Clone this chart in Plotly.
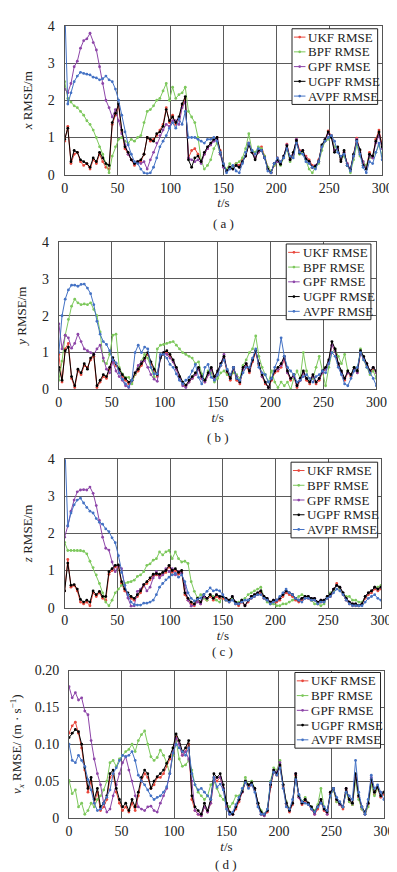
import plotly.graph_objects as go

# ---------------- data ----------------
t = list(range(0, 301, 3))
series_names = ["UKF RMSE", "BPF RMSE", "GPF RMSE", "UGPF RMSE", "AVPF RMSE"]
series_colors = ["#e8473c", "#7dc85c", "#8d45a8", "#000000", "#4472c4"]
x_ticks = [0, 50, 100, 150, 200, 250, 300]

# panel (a): x RMSE / m
ukf_a = [0.90, 1.30, 0.30, 0.55, 0.60, 0.35, 0.25, 0.30, 0.15, 0.40,
         0.30, 0.55, 0.35, 0.20, 0.15, 1.35, 1.60, 1.85, 1.15, 0.70,
         0.55, 0.40, 0.25, 0.35, 0.35, 0.55, 1.00, 0.90, 0.95, 1.05,
         1.20, 1.35, 1.80, 1.40, 1.60, 1.35, 1.50, 1.85, 2.05, 0.45,
         0.65, 0.70, 0.55, 0.35, 0.55, 0.70, 0.80, 0.95, 1.00, 0.65,
         0.30, 0.10, 0.20, 0.20, 0.30, 0.25, 0.40, 0.50, 0.85, 0.65,
         0.45, 0.60, 0.75, 0.50, 0.20, 0.05, 0.25, 0.45, 0.35, 0.45,
         0.82, 0.45, 0.55, 0.95, 0.65, 0.60, 0.50, 0.40, 0.25, 0.20,
         0.40, 0.75, 0.90, 1.18, 1.05, 0.65, 0.70, 0.40, 0.60, 0.30,
         0.10, 0.50, 0.98, 0.65, 0.30, 0.20, 0.60, 0.45, 0.95, 1.20,
         0.80]
bpf_a = [2.50, 2.05, 1.95, 1.85, 1.80, 1.70, 1.60, 1.45, 1.35, 1.20,
         1.00, 0.75, 0.55, 0.30, 0.05, 0.50, 0.75, 0.95, 1.00, 0.90,
         0.85, 0.95, 0.90, 1.00, 1.05, 1.40, 1.70, 1.75, 1.85, 2.00,
         2.05, 2.25, 2.45, 2.00, 2.35, 2.05, 2.15, 2.20, 2.35, 1.70,
         1.55, 1.40, 1.00, 0.40, 0.15, 0.25, 0.40, 0.70, 0.85, 0.55,
         0.25, 0.15, 0.30, 0.20, 0.30, 0.35, 0.45, 0.70, 1.10, 0.65,
         0.60, 0.75, 0.70, 0.50, 0.20, 0.10, 0.25, 0.35, 0.25, 0.45,
         0.70, 0.35, 0.50, 0.90, 0.55, 0.60, 0.40, 0.15, 0.05, 0.20,
         0.30, 0.65, 0.90, 0.95, 1.05, 0.75, 0.65, 0.40, 0.50, 0.25,
         0.05, 0.40, 0.80, 0.50, 0.35, 0.25, 0.45, 0.50, 0.60, 0.80,
         0.50]
gpf_a = [2.30, 2.20, 2.45, 2.90, 3.05, 3.40, 3.60, 3.65, 3.80, 3.55,
         3.35, 2.90, 2.45, 2.00, 1.80, 1.55, 1.75, 1.45, 1.10, 0.80,
         0.55, 0.40, 0.30, 0.35, 0.30, 0.35, 0.15, 0.40, 0.60, 0.85,
         1.05, 1.20, 1.35, 1.30, 1.45, 1.45, 1.35, 1.80, 1.95, 0.45,
         0.40, 0.35, 0.40, 0.30, 0.55, 0.70, 0.80, 0.90, 0.95, 0.55,
         0.20, 0.10, 0.20, 0.15, 0.25, 0.20, 0.35, 0.50, 0.85, 0.60,
         0.45, 0.60, 0.65, 0.45, 0.15, 0.05, 0.30, 0.35, 0.30, 0.50,
         0.80, 0.40, 0.55, 0.95, 0.60, 0.65, 0.45, 0.35, 0.20, 0.25,
         0.35, 0.75, 0.95, 1.10, 1.05, 0.65, 0.70, 0.40, 0.60, 0.30,
         0.15, 0.50, 0.95, 0.60, 0.35, 0.15, 0.50, 0.45, 0.85, 1.05,
         0.70]
ugpf_a = [0.95, 1.25, 0.35, 0.65, 0.60, 0.40, 0.35, 0.30, 0.20, 0.45,
          0.35, 0.60, 0.45, 0.30, 0.25, 1.40, 1.65, 1.90, 1.20, 0.75,
          0.60, 0.40, 0.30, 0.35, 0.40, 0.55, 1.00, 0.95, 0.90, 1.10,
          1.15, 1.30, 1.75, 1.45, 1.55, 1.40, 1.55, 1.90, 2.10, 0.40,
          0.20, 0.45, 0.50, 0.35, 0.60, 0.75, 0.85, 0.95, 1.00, 0.60,
          0.25, 0.10, 0.20, 0.15, 0.25, 0.20, 0.35, 0.50, 0.80, 0.60,
          0.40, 0.65, 0.65, 0.45, 0.15, 0.05, 0.30, 0.40, 0.28, 0.50,
          0.78, 0.40, 0.60, 0.92, 0.58, 0.65, 0.42, 0.36, 0.20, 0.23,
          0.36, 0.80, 0.94, 1.15, 1.00, 0.60, 0.75, 0.35, 0.65, 0.25,
          0.14, 0.55, 0.92, 0.67, 0.25, 0.15, 0.55, 0.50, 0.90, 1.15,
          0.75]
avpf_a = [4.60, 1.90, 2.20, 2.50, 2.65, 2.75, 2.72, 2.70, 2.68, 2.62,
          2.60, 2.55, 2.58, 2.65, 2.55, 2.50, 2.30, 2.00, 1.60, 1.15,
          0.80, 0.55, 0.35, 0.30, 0.15, 0.05, 0.03, 0.05, 0.20, 0.45,
          0.75, 0.90, 1.05, 1.25, 1.40, 1.25, 1.50, 1.35, 1.70, 1.00,
          1.00, 1.00, 0.95, 0.90, 0.85, 0.95, 0.95, 1.00, 0.90, 0.60,
          0.30, 0.05, 0.15, 0.25, 0.10, 0.05, 0.30, 0.60, 0.85, 0.65,
          0.55, 0.70, 0.65, 0.45, 0.10, 0.05, 0.30, 0.45, 0.35, 0.45,
          0.70, 0.50, 0.45, 0.85, 0.60, 0.55, 0.35, 0.30, 0.20, 0.15,
          0.35, 0.75, 0.90, 1.00, 1.05, 0.90, 0.60, 0.50, 0.55, 0.25,
          0.10, 0.50, 0.90, 0.55, 0.20, 0.05, 0.35, 0.30, 0.60, 0.85,
          0.40]

# panel (b): y RMSE / m
ukf_b = [0.95, 0.20, 1.10, 1.25, 0.30, 0.05, 0.50, 0.40, 0.65, 0.60,
         0.80, 0.90, 0.05, 0.20, 0.35, 0.30, 0.55, 0.80, 0.65, 0.50,
         0.35, 0.25, 0.15, 0.20, 0.40, 0.50, 0.65, 0.80, 0.95, 0.70,
         0.50, 0.35, 0.90, 0.95, 1.00, 0.90, 0.75, 0.55, 0.30, 0.15,
         0.08, 0.20, 0.30, 0.40, 0.55, 0.30, 0.20, 0.40, 0.55, 0.30,
         0.45, 0.65, 0.85, 0.45, 0.25, 0.55, 0.25, 0.15, 0.55, 0.65,
         0.45, 0.75, 1.00, 0.65, 0.35, 0.15, 0.05, 0.25, 0.45, 0.50,
         0.60, 0.80, 0.45, 0.25, 0.35, 0.05, 0.25, 0.45, 0.25, 0.15,
         0.35, 0.15, 0.25, 0.45, 0.55, 0.75, 1.20, 1.05, 0.65, 0.45,
         0.25, 0.45, 0.35, 0.55, 0.45, 1.00, 0.85, 0.65, 0.45, 0.55,
         0.45]
bpf_b = [0.25, 0.77, 1.47, 1.90, 2.26, 2.45, 2.35, 2.30, 2.32, 2.30,
         2.35, 2.17, 2.00, 1.56, 0.77, 0.70, 0.95, 1.47, 1.50, 0.60,
         0.42, 0.33, 0.33, 0.15, 0.42, 0.60, 0.77, 0.95, 0.85, 0.60,
         0.33, 1.10, 1.20, 1.22, 1.25, 1.28, 1.30, 1.20, 1.10, 1.00,
         0.95, 0.90, 0.85, 0.70, 0.75, 0.42, 0.25, 0.50, 0.45, 0.20,
         0.30, 0.45, 0.50, 0.40, 0.35, 0.45, 0.40, 0.30, 0.65, 0.80,
         1.00, 1.10, 1.45, 0.90, 0.60, 0.40, 0.20, 0.50, 0.20, 0.05,
         0.20, 0.10, 0.20, 0.00, 0.30, 0.50, 0.30, 1.00, 0.50, 0.20,
         0.30, 0.60, 0.90, 0.50, 0.10, 0.60, 1.00, 1.10, 0.90, 0.70,
         0.95, 0.50, 0.40, 0.60, 0.50, 1.10, 0.80, 0.60, 0.40, 0.50,
         0.30]
gpf_b = [1.78, 1.10, 1.47, 1.40, 1.12, 1.25, 1.50, 1.30, 1.10, 1.05,
         1.00, 0.95, 1.10, 1.20, 0.85, 0.55, 0.45, 0.75, 0.50, 0.35,
         0.25, 0.10, 0.05, 0.25, 0.45, 0.65, 0.75, 0.78, 0.60, 0.40,
         0.28, 0.22, 0.90, 1.00, 0.95, 0.85, 0.75, 0.55, 0.30, 0.10,
         0.05, 0.20, 0.30, 0.40, 0.55, 0.30, 0.20, 0.40, 0.55, 0.30,
         0.45, 0.70, 0.95, 0.50, 0.30, 0.60, 0.35, 0.20, 0.55, 0.70,
         0.50, 0.80, 1.05, 0.70, 0.35, 0.20, 0.05, 0.30, 0.50, 0.55,
         0.65, 0.85, 0.45, 0.30, 0.35, 0.10, 0.25, 0.45, 0.30, 0.20,
         0.35, 0.20, 0.30, 0.45, 0.55, 0.75, 1.20, 1.05, 0.70, 0.45,
         0.30, 0.45, 0.40, 0.55, 0.45, 1.00, 0.85, 0.70, 0.50, 0.60,
         0.45]
ugpf_b = [0.60, 0.25, 1.05, 1.15, 0.35, 0.10, 0.55, 0.45, 0.70, 0.55,
          0.85, 0.95, 0.10, 0.25, 0.40, 0.35, 0.60, 0.86, 0.70, 0.55,
          0.40, 0.30, 0.20, 0.25, 0.45, 0.55, 0.70, 0.85, 1.00, 0.75,
          0.55, 0.40, 0.85, 1.00, 1.05, 0.95, 0.80, 0.60, 0.35, 0.20,
          0.12, 0.25, 0.35, 0.45, 0.60, 0.35, 0.25, 0.45, 0.60, 0.35,
          0.50, 0.70, 0.90, 0.50, 0.30, 0.60, 0.30, 0.20, 0.60, 0.70,
          0.50, 0.80, 1.05, 0.70, 0.40, 0.20, 0.05, 0.30, 0.50, 0.60,
          0.70, 0.90, 0.50, 0.30, 0.40, 0.10, 0.30, 0.50, 0.30, 0.20,
          0.40, 0.20, 0.30, 0.50, 0.60, 0.80, 1.30, 1.10, 0.70, 0.50,
          0.30, 0.50, 0.40, 0.60, 0.50, 1.05, 0.90, 0.70, 0.50, 0.60,
          0.50]
avpf_b = [1.00, 2.00, 2.45, 2.70, 2.83, 2.83, 2.80, 2.85, 2.86, 2.75,
          2.60, 2.30, 1.85, 1.50, 1.30, 1.22, 1.05, 0.80, 0.72, 0.45,
          0.28, 0.15, 0.07, 0.25, 1.00, 1.20, 1.00, 1.15, 1.10, 0.60,
          0.42, 0.42, 0.95, 0.95, 0.85, 0.68, 0.60, 0.42, 0.25, 0.15,
          0.25, 0.33, 0.50, 0.68, 0.33, 0.15, 0.60, 0.68, 0.33, 0.25,
          0.40, 0.65, 0.80, 0.55, 0.40, 0.60, 0.30, 0.25, 0.45, 0.60,
          0.60, 0.85, 1.10, 0.60, 0.45, 0.40, 0.20, 0.30, 0.60, 0.80,
          1.40, 0.90, 0.60, 0.50, 0.40, 0.20, 0.25, 0.35, 0.40, 0.30,
          0.20, 0.35, 0.40, 0.50, 0.45, 0.70, 1.00, 0.90, 0.60, 0.40,
          0.15, 0.10, 0.30, 0.50, 0.60, 1.00, 0.80, 0.60, 0.45, 0.30,
          0.10]

# panel (c): z RMSE / m
ukf_c = [0.45, 1.30, 0.55, 0.60, 0.45, 0.15, 0.10, 0.15, 0.05, 0.40,
         0.30, 0.40, 0.25, 0.20, 0.90, 1.00, 1.10, 1.10, 0.65, 0.45,
         0.35, 0.25, 0.20, 0.30, 0.40, 0.58, 0.65, 0.75, 0.85, 0.88,
         0.85, 0.90, 0.95, 1.10, 0.95, 1.00, 0.90, 0.95, 0.35, 0.20,
         0.10, 0.05, 0.20, 0.10, 0.30, 0.20, 0.30, 0.20, 0.30, 0.25,
         0.25, 0.20, 0.15, 0.25, 0.10, 0.05, 0.15, 0.05, 0.15, 0.25,
         0.30, 0.35, 0.40, 0.25, 0.20, 0.10, 0.15, 0.15, 0.20, 0.30,
         0.40, 0.35, 0.30, 0.20, 0.15, 0.20, 0.25, 0.25, 0.20, 0.20,
         0.10, 0.15, 0.15, 0.25, 0.30, 0.45, 0.65, 0.50, 0.35, 0.20,
         0.10, 0.05, 0.05, 0.05, 0.10, 0.25, 0.35, 0.40, 0.50, 0.45,
         0.50]
bpf_c = [1.76, 1.54, 1.54, 1.54, 1.54, 1.54, 1.52, 1.45, 1.25, 1.08,
         0.88, 0.65, 0.40, 0.15, 0.05, 0.20, 0.40, 0.50, 0.60, 0.65,
         0.68, 0.70, 0.74, 0.84, 0.88, 0.97, 1.14, 1.18, 1.28, 1.32,
         1.50, 1.42, 1.50, 1.54, 1.32, 1.50, 1.32, 1.23, 1.25, 1.19,
         0.70, 0.44, 0.26, 0.35, 0.25, 0.20, 0.35, 0.30, 0.20, 0.15,
         0.30, 0.20, 0.20, 0.25, 0.15, 0.15, 0.20, 0.25, 0.35, 0.40,
         0.45, 0.50, 0.55, 0.30, 0.15, 0.10, 0.10, 0.05, 0.05, 0.10,
         0.10, 0.15, 0.20, 0.25, 0.30, 0.35, 0.30, 0.30, 0.20, 0.10,
         0.10, 0.05, 0.10, 0.30, 0.40, 0.45, 0.60, 0.50, 0.40, 0.30,
         0.30, 0.20, 0.20, 0.15, 0.15, 0.30, 0.40, 0.45, 0.55, 0.55,
         0.60]
gpf_c = [1.90, 2.20, 2.60, 2.90, 3.12, 3.17, 3.18, 3.17, 3.25, 3.08,
         2.75, 2.35, 1.90, 1.60, 1.55, 1.23, 0.97, 1.14, 1.05, 0.60,
         0.26, 0.04, 0.05, 0.44, 0.50, 0.62, 0.45, 0.55, 0.80, 0.97,
         0.80, 0.88, 1.05, 0.97, 1.05, 0.88, 0.97, 0.92, 0.60, 0.20,
         0.04, 0.08, 0.15, 0.10, 0.30, 0.25, 0.35, 0.25, 0.35, 0.30,
         0.30, 0.25, 0.20, 0.30, 0.15, 0.10, 0.20, 0.05, 0.20, 0.30,
         0.35, 0.40, 0.45, 0.30, 0.25, 0.15, 0.20, 0.20, 0.25, 0.35,
         0.45, 0.40, 0.35, 0.25, 0.20, 0.25, 0.30, 0.30, 0.25, 0.25,
         0.15, 0.20, 0.20, 0.30, 0.35, 0.50, 0.60, 0.55, 0.40, 0.25,
         0.15, 0.10, 0.10, 0.05, 0.10, 0.30, 0.40, 0.45, 0.55, 0.50,
         0.55]
ugpf_c = [0.45, 1.20, 0.60, 0.62, 0.50, 0.22, 0.15, 0.20, 0.15, 0.45,
          0.35, 0.44, 0.30, 0.30, 0.97, 1.05, 1.14, 1.15, 0.70, 0.50,
          0.40, 0.30, 0.25, 0.35, 0.45, 0.62, 0.70, 0.80, 0.90, 0.92,
          0.90, 0.95, 1.00, 1.14, 1.00, 1.05, 0.95, 1.00, 0.40, 0.25,
          0.15, 0.10, 0.25, 0.15, 0.35, 0.25, 0.35, 0.25, 0.35, 0.30,
          0.30, 0.25, 0.20, 0.30, 0.15, 0.10, 0.20, 0.05, 0.20, 0.30,
          0.35, 0.40, 0.45, 0.30, 0.25, 0.15, 0.20, 0.20, 0.25, 0.35,
          0.45, 0.40, 0.35, 0.25, 0.20, 0.25, 0.30, 0.30, 0.25, 0.25,
          0.15, 0.20, 0.20, 0.30, 0.35, 0.50, 0.60, 0.55, 0.40, 0.25,
          0.15, 0.10, 0.10, 0.05, 0.10, 0.30, 0.40, 0.45, 0.55, 0.50,
          0.55]
avpf_c = [4.60, 2.20, 2.55, 2.77, 2.90, 2.95, 2.82, 2.70, 2.60, 2.55,
          2.40, 2.30, 2.25, 2.12, 2.05, 1.88, 1.75, 1.40, 0.95, 0.60,
          0.35, 0.15, 0.08, 0.07, 0.07, 0.12, 0.12, 0.15, 0.20, 0.35,
          0.55, 0.65, 0.75, 0.82, 0.88, 0.92, 0.82, 0.88, 0.70, 0.40,
          0.25, 0.18, 0.22, 0.26, 0.35, 0.44, 0.53, 0.45, 0.48, 0.45,
          0.35, 0.20, 0.15, 0.20, 0.10, 0.10, 0.15, 0.20, 0.20, 0.25,
          0.30, 0.35, 0.35, 0.25, 0.20, 0.10, 0.15, 0.20, 0.30, 0.40,
          0.50, 0.40, 0.35, 0.25, 0.20, 0.15, 0.25, 0.25, 0.20, 0.20,
          0.10, 0.15, 0.15, 0.25, 0.30, 0.40, 0.50, 0.45, 0.35, 0.20,
          0.10, 0.05, 0.05, 0.05, 0.05, 0.15, 0.25, 0.30, 0.35, 0.25,
          0.20]

# panel (d): v_x RMSE / (m/s)
ukf_d = [0.115, 0.125, 0.130, 0.115, 0.095, 0.065, 0.035, 0.050, 0.020, 0.035,
         0.010, 0.015, 0.025, 0.055, 0.060, 0.035, 0.020, 0.010, 0.015, 0.008,
         0.020, 0.010, 0.030, 0.050, 0.060, 0.055, 0.040, 0.045, 0.055, 0.055,
         0.060, 0.070, 0.080, 0.090, 0.110, 0.100, 0.085, 0.090, 0.100, 0.025,
         0.010, 0.005, 0.003, 0.015, 0.008, 0.020, 0.055, 0.050, 0.055, 0.040,
         0.015, 0.005, 0.005, 0.012, 0.022, 0.035, 0.048, 0.042, 0.045, 0.038,
         0.018, 0.005, 0.003, 0.008, 0.042, 0.062, 0.058, 0.070, 0.042, 0.018,
         0.008, 0.018, 0.058, 0.028, 0.018, 0.022, 0.018, 0.012, 0.005, 0.012,
         0.022, 0.010, 0.005, 0.032, 0.038, 0.022, 0.018, 0.012, 0.038, 0.022,
         0.018, 0.055, 0.028, 0.012, 0.005, 0.018, 0.050, 0.032, 0.040, 0.028,
         0.032]
bpf_d = [0.051, 0.033, 0.038, 0.015, 0.020, 0.005, 0.010, 0.020, 0.015, 0.025,
         0.030, 0.038, 0.050, 0.075, 0.078, 0.070, 0.080, 0.085, 0.090, 0.093,
         0.100, 0.090, 0.105, 0.113, 0.118, 0.100, 0.083, 0.078, 0.082, 0.092,
         0.085, 0.075, 0.060, 0.085, 0.105, 0.080, 0.070, 0.072, 0.078, 0.065,
         0.045, 0.035, 0.030, 0.025, 0.030, 0.045, 0.050, 0.040, 0.030, 0.025,
         0.020, 0.015, 0.020, 0.030, 0.030, 0.038, 0.055, 0.045, 0.050, 0.040,
         0.020, 0.010, 0.005, 0.012, 0.050, 0.068, 0.065, 0.078, 0.045, 0.022,
         0.012, 0.020, 0.055, 0.030, 0.022, 0.028, 0.020, 0.015, 0.010, 0.018,
         0.040, 0.015, 0.010, 0.030, 0.038, 0.022, 0.018, 0.015, 0.035, 0.022,
         0.018, 0.050, 0.025, 0.012, 0.005, 0.015, 0.045, 0.030, 0.040, 0.030,
         0.035]
gpf_d = [0.178, 0.163, 0.170, 0.160, 0.163, 0.145, 0.140, 0.105, 0.080, 0.060,
         0.045, 0.020, 0.008, 0.012, 0.030, 0.045, 0.060, 0.075, 0.083, 0.065,
         0.050, 0.030, 0.015, 0.012, 0.010, 0.015, 0.016, 0.010, 0.008, 0.020,
         0.030, 0.040, 0.060, 0.090, 0.108, 0.100, 0.085, 0.090, 0.080, 0.050,
         0.010, 0.005, 0.003, 0.015, 0.008, 0.020, 0.050, 0.055, 0.055, 0.040,
         0.018, 0.005, 0.005, 0.015, 0.025, 0.035, 0.050, 0.045, 0.045, 0.040,
         0.020, 0.005, 0.003, 0.010, 0.045, 0.065, 0.062, 0.075, 0.045, 0.020,
         0.010, 0.020, 0.060, 0.028, 0.020, 0.025, 0.020, 0.012, 0.005, 0.015,
         0.022, 0.012, 0.005, 0.035, 0.040, 0.025, 0.018, 0.015, 0.040, 0.025,
         0.020, 0.058, 0.030, 0.015, 0.005, 0.020, 0.055, 0.035, 0.042, 0.030,
         0.035]
ugpf_d = [0.109, 0.115, 0.120, 0.117, 0.100, 0.068, 0.040, 0.055, 0.025, 0.040,
          0.015, 0.020, 0.030, 0.060, 0.065, 0.040, 0.025, 0.015, 0.020, 0.010,
          0.025, 0.015, 0.035, 0.055, 0.065, 0.060, 0.040, 0.050, 0.056, 0.060,
          0.065, 0.074, 0.083, 0.095, 0.114, 0.105, 0.090, 0.095, 0.105, 0.030,
          0.015, 0.010, 0.005, 0.020, 0.010, 0.025, 0.060, 0.055, 0.060, 0.045,
          0.020, 0.008, 0.005, 0.015, 0.025, 0.036, 0.050, 0.045, 0.048, 0.040,
          0.020, 0.008, 0.005, 0.010, 0.045, 0.065, 0.060, 0.072, 0.045, 0.020,
          0.010, 0.020, 0.060, 0.030, 0.020, 0.025, 0.020, 0.015, 0.008, 0.015,
          0.025, 0.012, 0.008, 0.035, 0.040, 0.025, 0.020, 0.015, 0.040, 0.025,
          0.020, 0.060, 0.030, 0.015, 0.008, 0.020, 0.052, 0.035, 0.042, 0.030,
          0.035]
avpf_d = [0.100, 0.078, 0.075, 0.085, 0.078, 0.070, 0.052, 0.038, 0.020, 0.010,
          0.012, 0.020, 0.028, 0.038, 0.060, 0.068, 0.078, 0.085, 0.083, 0.085,
          0.090, 0.078, 0.058, 0.050, 0.045, 0.038, 0.030, 0.025, 0.028, 0.030,
          0.035, 0.042, 0.060, 0.088, 0.100, 0.095, 0.090, 0.085, 0.095, 0.060,
          0.045, 0.038, 0.040, 0.035, 0.030, 0.025, 0.055, 0.042, 0.046, 0.038,
          0.012, 0.005, 0.008, 0.018, 0.028, 0.040, 0.048, 0.040, 0.045, 0.035,
          0.015, 0.005, 0.005, 0.012, 0.048, 0.062, 0.058, 0.068, 0.040, 0.015,
          0.012, 0.025, 0.052, 0.032, 0.022, 0.020, 0.018, 0.012, 0.008, 0.015,
          0.020, 0.015, 0.010, 0.030, 0.040, 0.028, 0.022, 0.015, 0.035, 0.030,
          0.025, 0.078, 0.035, 0.015, 0.005, 0.025, 0.058, 0.040, 0.045, 0.035,
          0.025]

panels = [
    dict(series=[ukf_a, bpf_a, gpf_a, ugpf_a, avpf_a], ytitle="<i>x</i> RMSE/m",
         yrange=[0, 4], yticks=[0, 1, 2, 3, 4], yticktext=["0", "1", "2", "3", "4"], caption="( a )"),
    dict(series=[ukf_b, bpf_b, gpf_b, ugpf_b, avpf_b], ytitle="<i>y</i> RMSE/m",
         yrange=[0, 4], yticks=[0, 1, 2, 3, 4], yticktext=["0", "1", "2", "3", "4"], caption="( b )"),
    dict(series=[ukf_c, bpf_c, gpf_c, ugpf_c, avpf_c], ytitle="<i>z</i> RMSE/m",
         yrange=[0, 4], yticks=[0, 1, 2, 3, 4], yticktext=["0", "1", "2", "3", "4"], caption="( c )"),
    dict(series=[ukf_d, bpf_d, gpf_d, ugpf_d, avpf_d],
         ytitle="<i>v</i><sub><i>x</i></sub> RMSE/ (m · s<sup>−1</sup>)",
         yrange=[0, 0.2], yticks=[0, 0.05, 0.10, 0.15, 0.20],
         yticktext=["0", "0.05", "0.10", "0.15", "0.20"], caption="( d )"),
]
for p in panels:
    for s in p["series"]:
        assert len(s) == len(t), len(s)

# ---------------- layout (pixel geometry) ----------------
W, H = 397, 872
# plot boxes: (left, right, top, bottom) in px
boxes = [(54.7, 384.7, 11.0, 162.5),
         (48.7, 378.7, 231.0, 381.0),
         (54.7, 383.5, 452.0, 603.0),
         (59.3, 386.5, 667.0, 817.0)]
# legend boxes: (left, top, right, bottom) in px
legend_boxes = [(291, 14, 380, 91),
                (285, 233, 373, 310),
                (290, 455, 380, 532),
                (294, 669, 383, 746)]
caption_y = [212, 430, 648, 864]
ytitle_standoff = [12, 12, 12, 15]

FONT = "Liberation Serif"
TXT = "#222222"

def px_x(v):
    return v / W

def px_y(v):
    return 1 - v / H

fig = go.Figure()
layout = dict(
    width=W, height=H, margin=dict(l=0, r=0, t=0, b=0),
    paper_bgcolor="white", plot_bgcolor="white",
    font=dict(family=FONT, size=13, color=TXT),
    showlegend=False, annotations=[], shapes=[],
)

for k, p in enumerate(panels):
    sfx = "" if k == 0 else str(k + 1)
    for name, ys, col in zip(series_names, p["series"], series_colors):
        fig.add_trace(go.Scatter(
            x=t, y=ys, name=name, mode="lines+markers",
            line=dict(color=col, width=1),
            marker=dict(color=col, size=2.8),
            xaxis="x" + sfx, yaxis="y" + sfx,
        ))
    l, r, tp, bt = boxes[k]
    axis_common = dict(showgrid=True, gridcolor="#5a5a5a", gridwidth=1,
                       showline=True, linecolor="#555555", linewidth=1, mirror=True,
                       zeroline=False, ticks="", tickfont=dict(family=FONT, size=14, color=TXT))
    layout["xaxis" + sfx] = dict(
        domain=[px_x(l), px_x(r)], anchor="y" + sfx, range=[0, 300], tickvals=x_ticks,
        title=dict(text="<i>t</i>/s", font=dict(family=FONT, size=13, color=TXT), standoff=3),
        **axis_common)
    layout["yaxis" + sfx] = dict(
        domain=[px_y(bt), px_y(tp)], anchor="x" + sfx, range=p["yrange"], tickvals=p["yticks"],
        ticktext=p["yticktext"], ticklabelstandoff=6,
        title=dict(text=p["ytitle"], font=dict(family=FONT, size=13, color=TXT),
                   standoff=ytitle_standoff[k]),
        **axis_common)

    # boxed legend drawn in paper space
    bl, btop, br, bbot = legend_boxes[k]
    layout["shapes"].append(dict(
        type="rect", xref="paper", yref="paper", layer="above",
        x0=px_x(bl), x1=px_x(br), y0=px_y(bbot), y1=px_y(btop),
        line=dict(color="#222222", width=1), fillcolor="white"))
    row_h = (bbot - btop - 17) / 4
    for i, (name, col) in enumerate(zip(series_names, series_colors)):
        cy = btop + 8.5 + i * row_h
        layout["shapes"].append(dict(
            type="line", xref="paper", yref="paper", layer="above",
            x0=px_x(bl + 2), x1=px_x(bl + 14), y0=px_y(cy), y1=px_y(cy),
            line=dict(color=col, width=1)))
        layout["shapes"].append(dict(
            type="circle", xref="paper", yref="paper", layer="above",
            x0=px_x(bl + 6.6), x1=px_x(bl + 9.4), y0=px_y(cy + 1.4), y1=px_y(cy - 1.4),
            line=dict(color=col, width=0), fillcolor=col))
        layout["annotations"].append(dict(
            text=name, xref="paper", yref="paper", x=px_x(bl + 15), y=px_y(cy),
            xanchor="left", yanchor="middle", showarrow=False,
            font=dict(family=FONT, size=13, color=TXT)))

    layout["annotations"].append(dict(
        text=p["caption"], xref="paper", yref="paper",
        x=px_x((l + r) / 2), y=px_y(caption_y[k]), xanchor="center", yanchor="middle",
        showarrow=False, font=dict(family=FONT, size=13, color=TXT)))

fig.update_layout(**layout)
fig.write_html("out.html")
